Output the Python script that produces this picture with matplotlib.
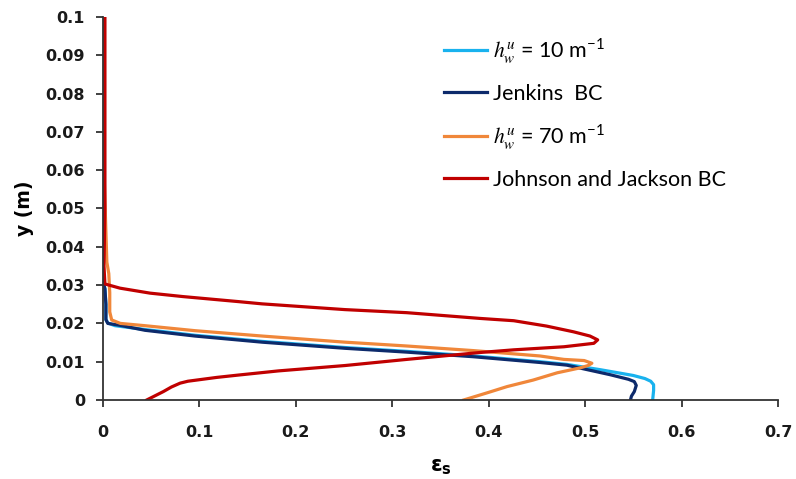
import matplotlib
matplotlib.use("Agg")
import matplotlib.pyplot as plt
from matplotlib.font_manager import FontProperties

# ---- data (eps_s, y) ----
h10_eps = [0.0, 0.0, 0.002, 0.003, 0.003, 0.005, 0.0124, 0.0436, 0.0954, 0.165, 0.251, 0.315,
           0.384, 0.453, 0.481, 0.516, 0.550, 0.562, 0.568, 0.571, 0.571, 0.570]
h10_y = [0.1, 0.031, 0.029, 0.025, 0.021, 0.0201, 0.0194, 0.0184, 0.0169, 0.0153, 0.0137, 0.0127,
         0.0115, 0.0100, 0.0093, 0.0079, 0.0064, 0.0056, 0.0049, 0.0040, 0.0025, 0.0]

jenk_eps = [0.0, 0.0, 0.002, 0.003, 0.003, 0.005, 0.0176, 0.0436, 0.0954, 0.165, 0.251, 0.315,
            0.384, 0.453, 0.481, 0.526, 0.545, 0.551, 0.553, 0.551, 0.548, 0.547]
jenk_y = [0.1, 0.031, 0.029, 0.025, 0.021, 0.0200, 0.0195, 0.0182, 0.0167, 0.0151, 0.0135, 0.0125,
          0.0113, 0.0098, 0.0091, 0.0066, 0.0054, 0.0048, 0.0038, 0.0022, 0.0010, 0.0]

h70_eps = [0.0, 0.001, 0.004, 0.006, 0.007, 0.007, 0.009, 0.018, 0.0436, 0.0954, 0.165, 0.251,
           0.315, 0.384, 0.453, 0.478, 0.499, 0.507, 0.503, 0.495, 0.471, 0.446, 0.419, 0.400, 0.374]
h70_y = [0.1, 0.06, 0.036, 0.033, 0.028, 0.023, 0.0209, 0.0200, 0.0194, 0.0181, 0.0167, 0.0151,
         0.0141, 0.0129, 0.0115, 0.0106, 0.0103, 0.0096, 0.0090, 0.0084, 0.0071, 0.0052, 0.0035,
         0.0020, 0.0]

jj_eps = [0.002, 0.002, 0.001, 0.002, 0.0176, 0.0488, 0.083, 0.140, 0.165, 0.251, 0.315, 0.391,
          0.426, 0.460, 0.488, 0.505, 0.513, 0.509, 0.478, 0.426, 0.391, 0.315, 0.251, 0.182,
          0.140, 0.118, 0.097, 0.088, 0.080, 0.071, 0.0626, 0.0453]
jj_y = [0.1, 0.05, 0.035, 0.0303, 0.0292, 0.0279, 0.0270, 0.0257, 0.0251, 0.0236, 0.0228, 0.0213,
        0.0207, 0.0193, 0.0178, 0.0167, 0.0157, 0.0148, 0.0139, 0.0131, 0.0124, 0.0106, 0.0090,
        0.0076, 0.0065, 0.0059, 0.0052, 0.0049, 0.0044, 0.0034, 0.0022, 0.0]

labels = [r"$h_w^u$ = 10 m$^{\mathregular{-1}}$", "Jenkins  BC",
          r"$h_w^u$ = 70 m$^{\mathregular{-1}}$", "Johnson and Jackson BC"]
x_ticks = [0, 0.1, 0.2, 0.3, 0.4, 0.5, 0.6, 0.7]
x_tick_labels = ["0", "0.1", "0.2", "0.3", "0.4", "0.5", "0.6", "0.7"]
y_ticks = [0, 0.01, 0.02, 0.03, 0.04, 0.05, 0.06, 0.07, 0.08, 0.09, 0.1]
y_tick_labels = ["0", "0.01", "0.02", "0.03", "0.04", "0.05", "0.06", "0.07", "0.08", "0.09", "0.1"]

colors = ["#19B2EE", "#0D2A6B", "#F0873A", "#C00000"]

fig = plt.figure(figsize=(7.96, 4.79), dpi=100)
ax = fig.add_axes([103 / 796, 1 - 400 / 479, (778 - 103) / 796, (400 - 17) / 479])

lw = 2.3
ax.plot(h10_eps, h10_y, color=colors[0], lw=lw, label=labels[0])
ax.plot(jenk_eps, jenk_y, color=colors[1], lw=lw, label=labels[1])
ax.plot(h70_eps, h70_y, color=colors[2], lw=lw, label=labels[2])
ax.plot(jj_eps, jj_y, color=colors[3], lw=lw, label=labels[3])

ax.set_xlim(0, 0.7)
ax.set_ylim(0, 0.1)
ax.set_xticks(x_ticks)
ax.set_xticklabels(x_tick_labels)
ax.set_yticks(y_ticks)
ax.set_yticklabels(y_tick_labels)
for lab in ax.get_xticklabels() + ax.get_yticklabels():
    lab.set_fontfamily("DejaVu Sans")
    lab.set_fontweight("bold")
    lab.set_fontsize(11.5)
    lab.set_color("#1a1a1a")
ax.tick_params(axis="x", direction="out", length=5, width=1.3, color="#333333", pad=13)
ax.tick_params(axis="y", direction="out", length=5, width=1.3, color="#333333", pad=8)

for s in ["top", "right"]:
    ax.spines[s].set_visible(False)
for s in ["left", "bottom"]:
    ax.spines[s].set_linewidth(1.3)
    ax.spines[s].set_color("#333333")

ax.set_ylabel("y (m)", fontsize=13.5, fontweight="bold", family="DejaVu Sans", labelpad=8)
ax.set_xlabel(r"ε$_\mathbf{s}$", fontsize=15, fontweight="bold", family="DejaVu Sans",
              math_fontfamily="dejavusans", labelpad=12)

prop = FontProperties(family=["Lato", "DejaVu Sans"], size=15.5, math_fontfamily="stix")
leg = fig.legend(loc="upper left", bbox_to_anchor=(425 / 796, 1 - 17 / 479), prop=prop,
                 frameon=False, handlelength=2.0, handletextpad=0.25, labelspacing=0.84)
for line in leg.get_lines():
    line.set_linewidth(2.3)

fig.savefig("out.png", dpi=100)
